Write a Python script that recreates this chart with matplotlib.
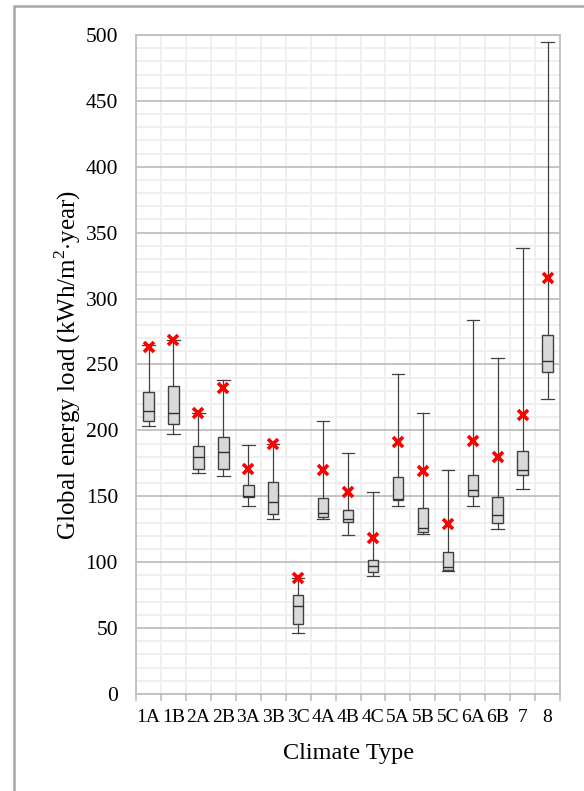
import numpy as np
import matplotlib
matplotlib.use("Agg")
import matplotlib.pyplot as plt
from matplotlib.patches import Rectangle
from matplotlib.ticker import MultipleLocator, FixedLocator

plt.rcParams['font.family'] = ['Liberation Serif', 'DejaVu Serif']
plt.rcParams['mathtext.fontset'] = 'custom'
plt.rcParams['mathtext.rm'] = 'Liberation Serif'

# climate types and box statistics (kWh/m2.year)
categories = ['1A', '1B', '2A', '2B', '3A', '3B', '3C', '4A', '4B', '4C',
              '5A', '5B', '5C', '6A', '6B', '7', '8']
whis_low = [203, 197, 167.5, 165.5, 143, 132.5, 46.5, 132.5, 121, 89.5,
            142.5, 121.5, 93, 143, 125.5, 155.5, 223.5]
q1 = [207, 204.5, 170.5, 171, 149.5, 136.5, 53, 134.5, 130.5, 92.5,
      147, 123, 94, 150.5, 130, 166, 244]
median = [215, 213, 179.5, 183.5, 150.5, 146, 66.5, 137, 132.5, 97,
          148, 126, 96, 155, 135.5, 170, 252.5]
q3 = [229.5, 233.5, 188.5, 195, 158.5, 160.5, 75, 148.5, 139.5, 102,
      164.5, 141.5, 108, 166.5, 149.5, 184, 272.5]
whis_high = [265, 268.5, 213.5, 238.5, 189, 189.5, 88, 207.5, 183, 153.5,
             242.5, 213.5, 170, 283.5, 255, 338.5, 495]
mean = [263.5, 268.5, 213.5, 232, 171, 190, 88, 170, 153, 118,
        191, 169, 129, 192, 180, 212, 315.5]

stats = []
for i, c in enumerate(categories):
    stats.append(dict(label=c, whislo=whis_low[i], q1=q1[i], med=median[i],
                      q3=q3[i], whishi=whis_high[i], fliers=[]))

fig = plt.figure(figsize=(5.84, 7.91), dpi=100)
ax = fig.add_axes([0.233, 0.1226, 0.726, 0.8332])

pos = np.arange(1, len(categories) + 1)
ax.bxp(stats, positions=pos, widths=0.42, capwidths=0.5, patch_artist=True,
       showfliers=False,
       boxprops=dict(facecolor='#d9d9d9', edgecolor='#404040', linewidth=1.0),
       medianprops=dict(color='#303030', linewidth=1.0),
       whiskerprops=dict(color='#404040', linewidth=0.9),
       capprops=dict(color='#404040', linewidth=0.9), zorder=3)
ax.plot(pos, mean, linestyle='none', marker='x', color='red',
        markersize=7, markeredgewidth=2.6, zorder=4)

ax.set_xlim(0.5, len(categories) + 0.5)
ax.set_ylim(0, 500)
ax.yaxis.set_major_locator(MultipleLocator(50))
ax.yaxis.set_minor_locator(MultipleLocator(10))
ax.xaxis.set_major_locator(FixedLocator(pos))
ax.xaxis.set_minor_locator(FixedLocator(np.arange(0.5, len(categories) + 1, 1)))
ax.set_xticklabels(categories)

ax.grid(which='minor', color='#efefef', linewidth=1.4, zorder=0)
ax.grid(which='major', axis='y', color='#bfbfbf', linewidth=1.3, zorder=1)
ax.set_axisbelow(True)

ax.tick_params(axis='both', which='major', length=0)
ax.tick_params(axis='y', which='major', pad=13, labelsize=15.5)
ax.tick_params(axis='y', which='minor', length=0)
ax.tick_params(axis='x', which='minor', length=5, color='#bfbfbf', width=1.2)
ax.tick_params(axis='x', which='major', pad=11, labelsize=14)

for s in ax.spines.values():
    s.set_color('#bfbfbf')
    s.set_linewidth(1.3)

ax.set_xlabel('Climate Type', fontsize=17.5, labelpad=12)
ax.set_ylabel(r'Global energy load (kWh/m$^{\mathrm{2}}$$\cdot$year)',
              fontsize=18, labelpad=1.5)

# outer chart frame (only left and top edges visible)
fig.patches.append(Rectangle((0.024, -0.1), 1.2, 1.0924, transform=fig.transFigure,
                             fill=False, edgecolor='#a6a6a6', linewidth=1.8))

fig.savefig('out.png', dpi=100)
